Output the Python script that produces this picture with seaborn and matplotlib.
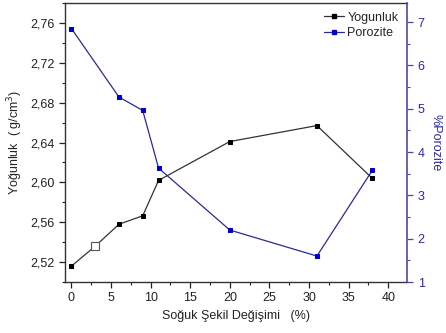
import matplotlib
matplotlib.use("Agg")
import matplotlib.pyplot as plt
import seaborn as sns
import pandas as pd
from matplotlib.ticker import MultipleLocator, FuncFormatter
from matplotlib.lines import Line2D

sns.set_theme(style="ticks")
plt.rcParams['font.family'] = ['Liberation Sans', 'DejaVu Sans']

x_dens = [0, 3, 6, 9, 11, 20, 31, 38]
yogunluk = [2.516, 2.536, 2.558, 2.5665, 2.602, 2.641, 2.657, 2.604]
x_por = [0, 6, 9, 11, 20, 31, 38]
porozite = [6.85, 5.27, 4.96, 3.63, 2.2, 1.6, 3.58]

df_d = pd.DataFrame({"x": x_dens, "y": yogunluk})
df_p = pd.DataFrame({"x": x_por, "y": porozite})

fig = plt.figure(figsize=(4.46, 3.33), dpi=100)
ax = fig.add_axes([0.146, 0.153, 0.767, 0.838])
ax2 = ax.twinx()

blue_line = "#2a2a9a"
blue_mark = "#0000cc"
axis_blue = "#4a4aa8"

sns.lineplot(data=df_d, x="x", y="y", ax=ax, color="#333333", lw=0.9,
             marker="s", markersize=3.4, markerfacecolor="black",
             markeredgecolor="black", legend=False)
# hollow point at x=3
sns.scatterplot(data=df_d[df_d.x == 3], x="x", y="y", ax=ax, marker="s", s=28,
                facecolor="white", edgecolor="#555555", linewidth=0.8, zorder=5)

sns.lineplot(data=df_p, x="x", y="y", ax=ax2, color=blue_line, lw=0.9,
             marker="s", markersize=3.4, markerfacecolor=blue_mark,
             markeredgecolor=blue_mark, legend=False)

ax.set_xlim(-0.8, 42.4)
ax.set_ylim(2.50, 2.78)
ax2.set_ylim(1, 7.44)

fs = 9
ax.xaxis.set_major_locator(MultipleLocator(5))
ax.xaxis.set_minor_locator(MultipleLocator(2.5))
ax.yaxis.set_major_locator(MultipleLocator(0.04))
ax.yaxis.set_minor_locator(MultipleLocator(0.02))
ax.yaxis.set_major_formatter(FuncFormatter(lambda v, p: f"{v:.2f}".replace(".", ",")))
ax2.yaxis.set_major_locator(MultipleLocator(1))
ax2.yaxis.set_minor_locator(MultipleLocator(0.5))

ax.tick_params(axis="both", which="major", direction="out", length=4, width=0.9,
               labelsize=fs, colors="#222222")
ax.tick_params(axis="both", which="minor", direction="out", length=2, width=0.8,
               colors="#222222")
ax2.tick_params(axis="y", which="major", direction="out", length=4, width=0.9,
                labelsize=fs, colors=axis_blue, labelcolor="#2a2aa0")
ax2.tick_params(axis="y", which="minor", direction="out", length=2, width=0.8,
                colors=axis_blue)

for s in ["left", "bottom", "top"]:
    ax.spines[s].set_color("#333333")
    ax.spines[s].set_linewidth(1.0)
ax2.spines["right"].set_color(axis_blue)
ax2.spines["right"].set_linewidth(1.2)
ax2.spines["top"].set_visible(False)
ax2.spines["left"].set_visible(False)
ax2.spines["bottom"].set_visible(False)
ax.spines["right"].set_visible(False)

ax.set_xlabel("Soğuk Şekil Değişimi   (%)", fontsize=fs, color="#222222")
ax.set_ylabel("Yoğunluk  ( g/cm$^3$)", fontsize=fs, color="#222222")
ax2.set_ylabel("%Porozite", fontsize=fs, color="#2a2aa0", rotation=270, labelpad=12)

handles = [
    Line2D([], [], color="#333333", lw=0.9, marker="s", markersize=3,
           markerfacecolor="black", markeredgecolor="black"),
    Line2D([], [], color=blue_line, lw=0.9, marker="s", markersize=3,
           markerfacecolor=blue_mark, markeredgecolor=blue_mark),
]
ax2.legend(handles, ["Yogunluk", "Porozite"], loc="upper right", frameon=False,
           fontsize=fs, handlelength=1.6, handletextpad=0.3, borderaxespad=0.3,
           labelspacing=0.3)

fig.savefig("out.png", dpi=100)
